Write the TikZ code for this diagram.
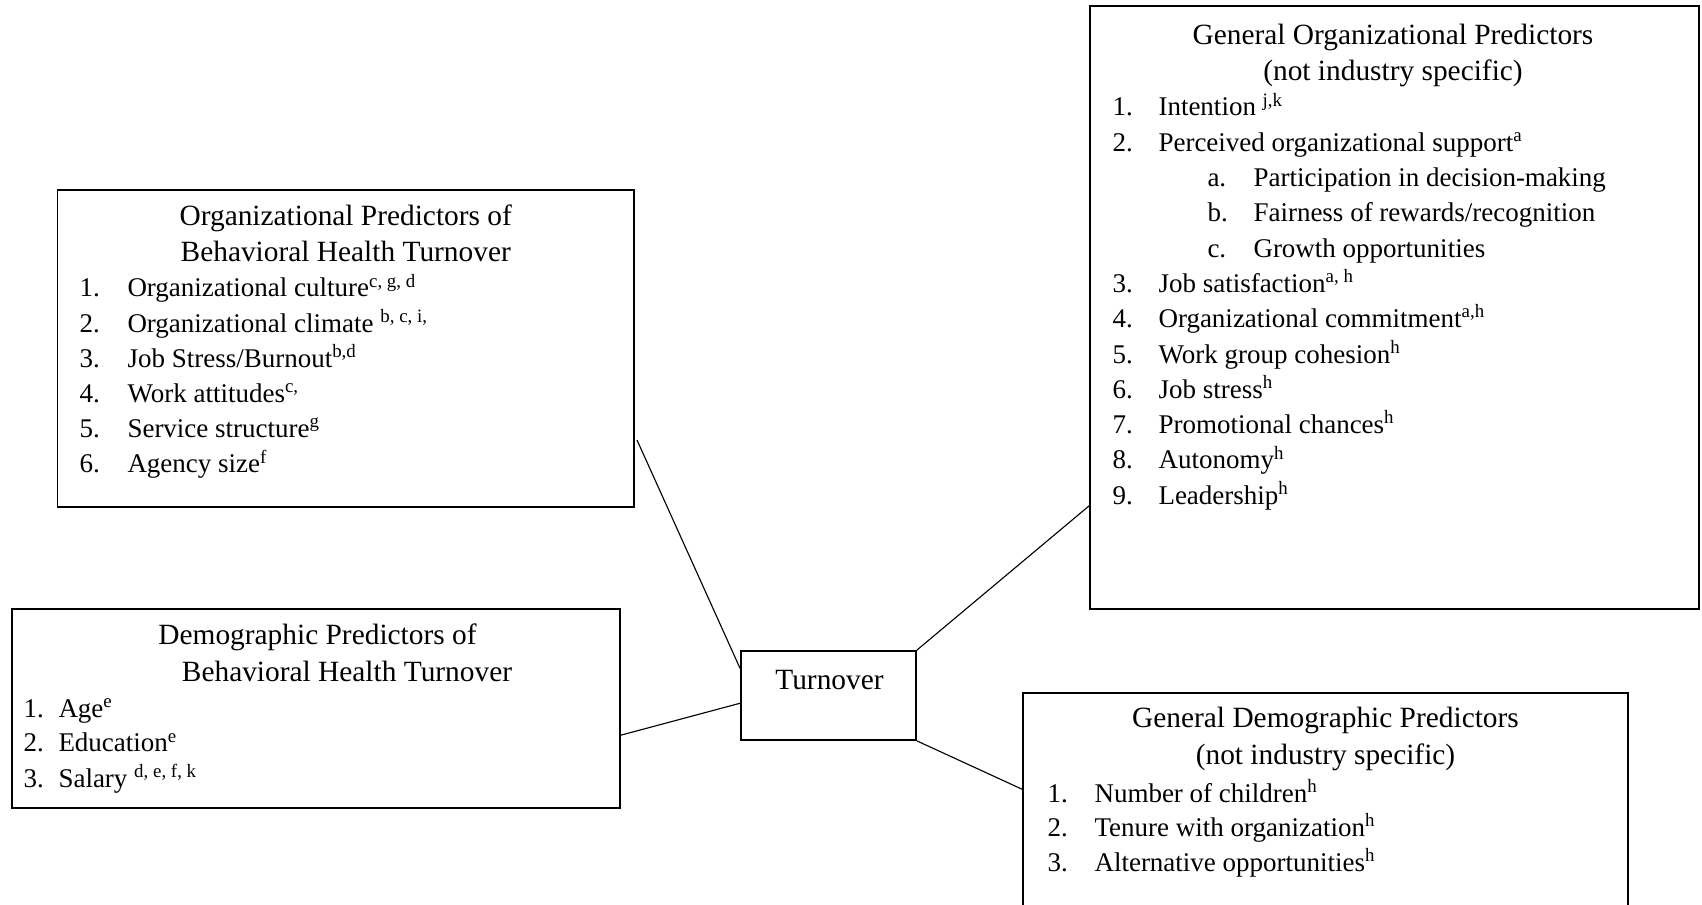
\documentclass[tikz,border=0pt]{standalone}
\usepackage{fontspec}
\setmainfont{Liberation Serif}
\tikzset{
  box/.style={draw,line width=0.7pt,inner sep=0pt},
  listitem/.style={anchor=base west,inner sep=0pt,font=\fontsize{10.8pt}{13pt}\selectfont},
  boxtitle/.style={anchor=base,inner sep=0pt},
  link/.style={line width=0.45pt}
}
\newcommand{\sps}[1]{\textsuperscript{#1}}
\begin{document}
\begin{tikzpicture}[x=0.4pt,y=-0.4pt,every node/.style={font=\fontsize{11.75pt}{14pt}\selectfont}]
\clip (0,0) rectangle (1702,905);
% Boxes
\node[box,minimum width=230.6pt,minimum height=126.8pt] (orgbh) at (345.75,348.5) {};
\node[box,minimum width=243.2pt,minimum height=79.6pt] (demobh) at (316,708.5) {};
\node[box,minimum width=70pt,minimum height=35.6pt] (turnover) at (828.5,695.5) {};
\node[box,minimum width=243.6pt,minimum height=241.2pt] (genorg) at (1394.5,307.5) {};
\node[box,minimum width=242pt,minimum height=106.8pt] (gendemo) at (1325.5,826.5) {};
\node[boxtitle] (turnlbl) at (829.5,689) {Turnover};
% Organizational predictors (behavioral health)
\node[boxtitle] (orgt1) at (345.75,226) {Organizational Predictors of};
\node[boxtitle] (orgt2) at (345.75,262) {Behavioral Health Turnover};
\foreach \i/\label in {1/{Organizational culture\sps{c, g, d}},2/{Organizational climate \sps{b, c, i,}},
  3/{Job Stress/Burnout\sps{b,d}},4/{Work attitudes\sps{c,}},5/{Service structure\sps{g}},6/{Agency size\sps{f}}} {
  \pgfmathsetmacro{\y}{297+(\i-1)*35.2}
  \node[listitem] (on\i) at (79,\y) {\i.};
  \node[listitem] (ot\i) at (127,\y) {\label};
}
% Demographic predictors (behavioral health)
\node[boxtitle] (demt1) at (317.5,645) {Demographic Predictors of};
\node[boxtitle] (demt2) at (347,681) {Behavioral Health Turnover};
\foreach \i/\label in {1/{Age\sps{e}},2/{Education\sps{e}},3/{Salary \sps{d, e, f, k}}} {
  \pgfmathsetmacro{\y}{717+(\i-1)*35}
  \node[listitem] (dn\i) at (23,\y) {\i.};
  \node[listitem] (dt\i) at (58,\y) {\label};
}
% General organizational predictors
\node[boxtitle] (gent1) at (1393,45) {General Organizational Predictors};
\node[boxtitle] (gent2) at (1393,81) {(not industry specific)};
\foreach \r/\n/\label in {0/1/{Intention \sps{j,k}},1/2/{Perceived organizational support\sps{a}},
  5/3/{Job satisfaction\sps{a, h}},6/4/{Organizational commitment\sps{a,h}},7/5/{Work group cohesion\sps{h}},
  8/6/{Job stress\sps{h}},9/7/{Promotional chances\sps{h}},10/8/{Autonomy\sps{h}},11/9/{Leadership\sps{h}}} {
  \pgfmathsetmacro{\y}{116+\r*35.3}
  \node[listitem] (gn\n) at (1112,\y) {\n.};
  \node[listitem] (gt\n) at (1158,\y) {\label};
}
\foreach \r/\n/\label in {2/a/{Participation in decision-making},3/b/{Fairness of rewards/recognition},4/c/{Growth opportunities}} {
  \pgfmathsetmacro{\y}{116+\r*35.3}
  \node[listitem] (gsn\n) at (1207,\y) {\n.};
  \node[listitem] (gst\n) at (1253,\y) {\label};
}
% General demographic predictors
\node[boxtitle] (gdt1) at (1325.5,727) {General Demographic Predictors};
\node[boxtitle] (gdt2) at (1325.5,764) {(not industry specific)};
\foreach \i/\label in {1/{Number of children\sps{h}},2/{Tenure with organization\sps{h}},3/{Alternative opportunities\sps{h}}} {
  \pgfmathsetmacro{\y}{802+(\i-1)*34.7}
  \node[listitem] (gdn\i) at (1047,\y) {\i.};
  \node[listitem] (gdl\i) at (1094,\y) {\label};
}
% Links to turnover
\coordinate (orgtip) at (637,440);
\draw[link] (orgtip) -- (turnover.163);
\draw[link] (demobh.-5) -- (turnover.185);
\draw[link] (turnover.north east) -- (genorg.213);
\draw[link] (turnover.south east) -- (gendemo.173);
\end{tikzpicture}
\end{document}
